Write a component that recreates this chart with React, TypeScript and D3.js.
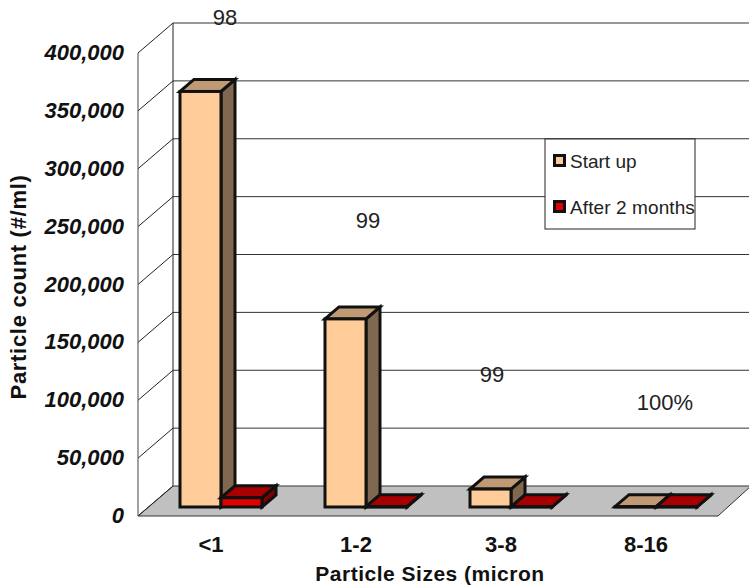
import React from "react";
import * as d3 from "d3";

// Particle counts by size band, before and after two months of service
const categories = ["<1", "1-2", "3-8", "8-16"];
const startUp = [359000, 162500, 15500, 300];
const afterTwoMonths = [8000, 300, 200, 200];
const reductionLabels = ["98", "99", "99", "100%"];
const yTicks = [0, 50000, 100000, 150000, 200000, 250000, 300000, 350000, 400000];

const W = 749;
const H = 587;
const wallLeft = 173;
const floorBack = 486;
const floorFront = 516;
const wallTop = 23;
const sideDx = 35; // horizontal shift between the front and back edge of the floor

const y = d3.scaleLinear().domain([0, 400000]).range([floorBack, wallTop]);
const fmt = d3.format(",");
const x = d3.scaleBand<string>().domain(categories).range([180, 760]).paddingInner(0).paddingOuter(0);
const BAR_W = 41;
const BAR_DX = 14;
const BAR_DY = 12;
const BAR_BASE = 507;

const poly = (pts: [number, number][]) => pts.map((p) => p.join(",")).join(" ");

type BarProps = { x0: number; value: number; front: string; top: string; side: string };

// A single extruded column: front face, lid and right-hand side
function Bar3D({ x0, value, front, top, side }: BarProps) {
  const h = floorBack - y(value);
  const yTop = BAR_BASE - h;
  const x1 = x0 + BAR_W;
  const stroke = { stroke: "#111", strokeWidth: 3, strokeLinejoin: "miter" as const };
  return (
    <g>
      <polygon
        points={poly([[x1, yTop], [x1 + BAR_DX, yTop - BAR_DY], [x1 + BAR_DX, BAR_BASE - BAR_DY], [x1, BAR_BASE]])}
        fill={side}
        {...stroke}
      />
      <polygon
        points={poly([[x0, yTop], [x0 + BAR_DX, yTop - BAR_DY], [x1 + BAR_DX, yTop - BAR_DY], [x1, yTop]])}
        fill={top}
        {...stroke}
      />
      <rect x={x0} y={yTop} width={BAR_W} height={h} fill={front} {...stroke} />
    </g>
  );
}

const sans = "'Liberation Sans', Arial, sans-serif";
const labelSpots: [number, number][] = [[225, 25], [368, 228], [492, 382], [665, 410]];

export default function App() {
  return (
    <svg
      width={W}
      height={H}
      style={{ position: "absolute", left: 0, top: 0, background: "#fff" }}
      fontFamily={sans}
    >
      <polygon
        points={poly([[wallLeft - sideDx, floorFront], [wallLeft, floorBack], [W + 2, floorBack], [718, floorFront]])}
        fill="#c0c0c0"
        stroke="#333"
        strokeWidth={1}
      />
      {yTicks.map((t) => (
        <g key={t}>
          {t > 0 && <line x1={wallLeft} x2={W} y1={y(t)} y2={y(t)} stroke="#333" strokeWidth={1} />}
          <line x1={wallLeft - sideDx} x2={wallLeft} y1={y(t) + floorFront - floorBack} y2={y(t)} stroke="#222" strokeWidth={1} />
          <text
            x={124}
            y={y(t) + floorFront - floorBack + 7}
            textAnchor="end"
            fontSize={22}
            fontWeight="bold"
            fontStyle="italic"
            fill="#111"
          >
            {fmt(t)}
          </text>
        </g>
      ))}
      <line x1={wallLeft} x2={wallLeft} y1={wallTop} y2={floorBack} stroke="#222" />
      <line x1={wallLeft - sideDx} x2={wallLeft - sideDx} y1={wallTop + 30} y2={floorFront} stroke="#444" />

      {categories.map((c, i) => {
        const x0 = x(c)!;
        return (
          <g key={c}>
            <Bar3D x0={x0} value={startUp[i]} front="#ffcc99" top="#c09a74" side="#806750" />
            <Bar3D x0={x0 + BAR_W} value={afterTwoMonths[i]} front="#e00000" top="#a80000" side="#800000" />
            <text x={x0 + 31} y={552} textAnchor="middle" fontSize={22} fontWeight="bold" fill="#111">
              {c}
            </text>
          </g>
        );
      })}

      {reductionLabels.map((t, i) => (
        <text key={i} x={labelSpots[i][0]} y={labelSpots[i][1]} textAnchor="middle" fontSize={22} fill="#222">
          {t}
        </text>
      ))}

      <text x={430} y={581} textAnchor="middle" fontSize={21} fontWeight="bold" letterSpacing={0.5} fill="#111">
        Particle Sizes (micron
      </text>
      <text
        transform="translate(26,287) rotate(-90)"
        textAnchor="middle"
        fontSize={22}
        fontWeight="bold"
        letterSpacing={0.7}
        fill="#111"
      >
        Particle count (#/ml)
      </text>

      <rect x={545} y={139} width={150} height={90} fill="#fff" stroke="#222" />
      <rect x={554.5} y={155.5} width={10} height={10} fill="#ffcc99" stroke="#111" strokeWidth={3} />
      <rect x={554.5} y={201.5} width={10} height={10} fill="#e00000" stroke="#111" strokeWidth={3} />
      <text x={570} y={168} fontSize={19} fill="#222">Start up</text>
      <text x={570} y={214} fontSize={19} letterSpacing={0.1} fill="#222">After 2 months</text>
    </svg>
  );
}
